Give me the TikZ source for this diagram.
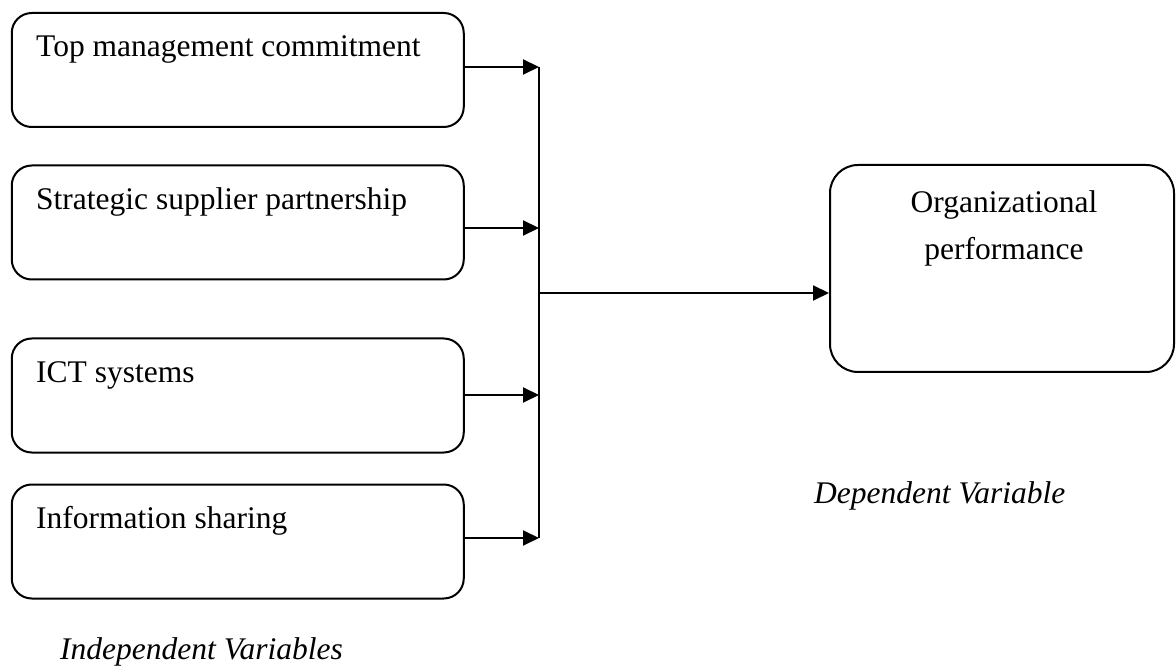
\documentclass[tikz,border=0pt]{standalone}
\usepackage{fontspec}
\setmainfont{Liberation Serif}
\usetikzlibrary{arrows.meta}
\begin{document}
\begin{tikzpicture}[x=1pt,y=-1pt,
  ivbox/.style={draw,line width=2pt,rounded corners=20pt,inner sep=0pt,
    minimum width=452pt,minimum height=114pt},
  dvbox/.style={draw,line width=2pt,rounded corners=28pt,inner sep=0pt,
    minimum width=344pt,minimum height=207pt},
  lbl/.style={inner sep=0pt,anchor=base west,font=\fontsize{31.5}{37}\selectfont},
  clbl/.style={inner sep=0pt,anchor=base,font=\fontsize{31.5}{37}\selectfont},
  captxt/.style={inner sep=0pt,anchor=base west,font=\fontsize{31.5}{37}\selectfont\itshape},
  conn/.style={line width=2pt},
  arr/.style={line width=2pt,-{Triangle[length=16pt,width=15pt]}}]
\useasboundingbox (0,0) rectangle (1176,668);
% independent variable boxes
\node[ivbox] (b1) at (237.75,70) {};
\node[ivbox] (b2) at (237.75,222.5) {};
\node[ivbox] (b3) at (237.75,395.5) {};
\node[ivbox] (b4) at (237.75,541.5) {};
\node[lbl] (t1) at (36,57) {Top management commitment};
\node[lbl] (t2) at (36,210) {Strategic supplier partnership};
\node[lbl] (t3) at (36,382) {ICT systems};
\node[lbl] (t4) at (36,528) {Information sharing};
% dependent variable box
\node[dvbox] (rb) at (1002,268.5) {};
\node[clbl] (r1) at (1004,213) {Organizational};
\node[clbl] (r2) at (1004,260) {performance};
% captions
\node[captxt] (dv) at (814,503) {Dependent Variable};
\node[captxt] (iv) at (60,659) {Independent Variables};
% junction points
\coordinate (j1) at (539,67);
\coordinate (j2) at (539,228);
\coordinate (j3) at (539,395);
\coordinate (j4) at (539,538);
\coordinate (jm) at (539,293);
\draw[arr] (b1.east |- j1) -- (j1);
\draw[arr] (b2.east |- j2) -- (j2);
\draw[arr] (b3.east |- j3) -- (j3);
\draw[arr] (b4.east |- j4) -- (j4);
\draw[conn] (j1) -- (j4);
\draw[arr] (jm) -- (rb.west |- jm);
\end{tikzpicture}
\end{document}
